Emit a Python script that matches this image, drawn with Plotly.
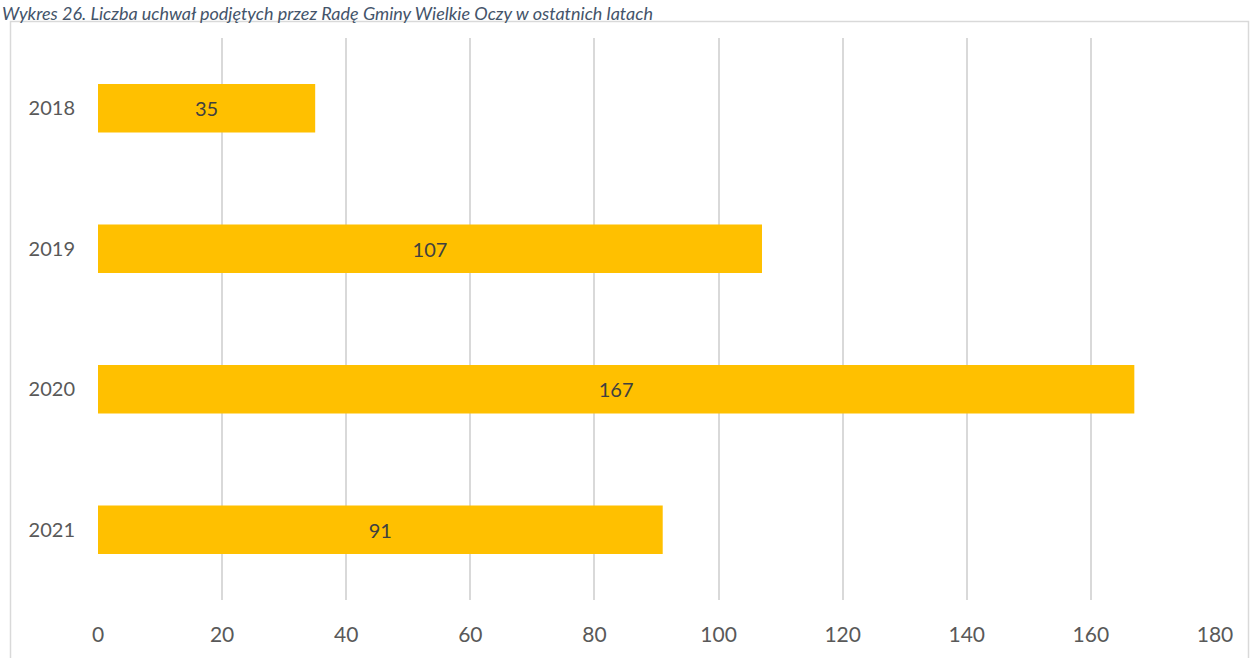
import plotly.graph_objects as go

years = ["2018", "2019", "2020", "2021"]
values = [35, 107, 167, 91]
x_ticks = [0, 20, 40, 60, 80, 100, 120, 140, 160, 180]
title_text = "Wykres 26. Liczba uchwał podjętych przez Radę Gminy Wielkie Oczy w ostatnich latach"

W, H = 1250, 658
L, R, T, B = 98, 35, 38, 56
pw, ph = W - L - R, H - T - B
FONT = "Lato, Open Sans, sans-serif"

fig = go.Figure(go.Bar(
    y=years, x=values, orientation="h",
    marker=dict(color="#FFC000", line=dict(width=0)),
    width=0.345,
    text=[str(v) for v in values], textposition="inside",
    insidetextanchor="middle",
    textfont=dict(family=FONT, size=20, color="#404040"),
    hoverinfo="skip",
))

def px_x(p):
    return (p - L) / pw

def px_y(p):
    return 1 - (p - T) / ph

fig.add_shape(type="rect", xref="paper", yref="paper",
              x0=px_x(10.5), x1=px_x(1248.5), y0=px_y(21.5), y1=px_y(700),
              line=dict(color="#D9D9D9", width=1.5), fillcolor="rgba(0,0,0,0)", layer="below")

fig.add_annotation(text=title_text, xref="paper", yref="paper",
                   x=px_x(0), y=px_y(0), xanchor="left", yanchor="top",
                   showarrow=False,
                   font=dict(family=FONT, size=18, color="#44546A", style="italic"))

fig.update_layout(
    width=W, height=H,
    margin=dict(l=L, r=R, t=T, b=B, pad=0),
    paper_bgcolor="white", plot_bgcolor="white",
    showlegend=False,
    xaxis=dict(range=[0, 180], tickvals=x_ticks, showgrid=True, gridcolor="#D9D9D9", gridwidth=1.5,
               zeroline=False, showline=False, ticks="", ticklabelstandoff=20,
               tickfont=dict(family=FONT, size=21, color="#595959")),
    yaxis=dict(categoryorder="array", categoryarray=years,
               range=[3.5, -0.5], autorange=False, showgrid=False, zeroline=False, showline=False,
               ticks="", ticklabelstandoff=22,
               tickfont=dict(family=FONT, size=20, color="#595959")),
)

fig.write_html("out.html", config={"displayModeBar": False},
               post_script="document.body.style.margin='0';document.body.style.overflow='hidden';")
